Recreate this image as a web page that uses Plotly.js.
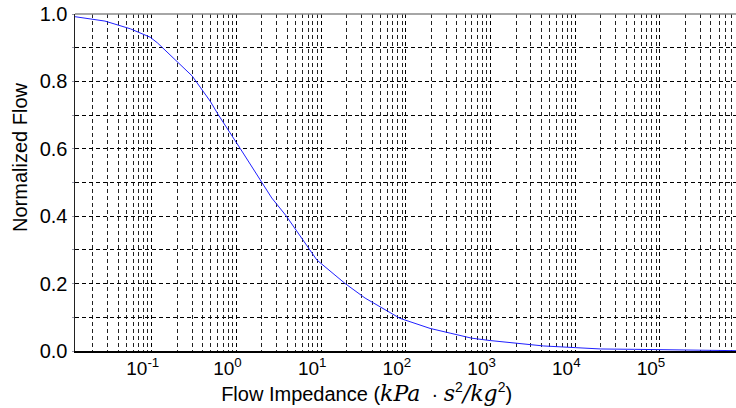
<!DOCTYPE html>
<html>
<head>
<meta charset="utf-8">
<script src="https://cdn.plot.ly/plotly-3.0.1.min.js"></script>
<style>html,body{margin:0;padding:0;background:#fff;}#chart{width:736px;height:408px;}</style>
</head>
<body>
<div id="chart"></div>
<script>
// Data
const flowImpedance = [0.0124, 0.028, 0.056, 0.096, 0.117, 0.216, 0.30, 0.49, 0.61, 1.1, 1.99, 2.61, 3.86, 7.4, 8.9, 19, 33, 85, 193, 333, 600, 990, 1950, 4200, 10000, 20000, 50000, 200000, 300000, 790000];
const normalizedFlow = [0.992, 0.979, 0.956, 0.931, 0.914, 0.850, 0.816, 0.741, 0.701, 0.602, 0.498, 0.454, 0.401, 0.300, 0.270, 0.201, 0.157, 0.097, 0.067, 0.053, 0.038, 0.031, 0.023, 0.015, 0.010, 0.006, 0.005, 0.003, 0.001, 0.001];
const xTickVals = [0.1, 1, 10, 100, 1000, 10000, 100000];
const xTickText = ['10<sup>-1</sup>', '10<sup>0</sup>', '10<sup>1</sup>', '10<sup>2</sup>', '10<sup>3</sup>', '10<sup>4</sup>', '10<sup>5</sup>'];

// minor (2..9 x decade) grid positions
const minorVals = [];
for (let e = -2; e <= 5; e++) {
  for (let m = 1; m <= 9; m++) {
    const v = m * Math.pow(10, e);
    if (m === 1 && xTickVals.indexOf(v) !== -1) continue;
    minorVals.push(v);
  }
}

const xMin = 0.0124, xMax = 790000;

const trace = {
  x: flowImpedance,
  y: normalizedFlow,
  type: 'scatter',
  mode: 'lines',
  line: {color: '#2020ff', width: 1},
  hoverinfo: 'x+y'
};

const M = (t) => '<span style="font-family:\'DejaVu Serif\';font-style:italic;font-size:22px">' + t + '</span>';
const sp = (n) => '&nbsp;'.repeat(n);
const gridDash = '4px,3px';
const layout = {
  width: 736, height: 408,
  margin: {l: 75, r: 0, t: 14, b: 57},
  paper_bgcolor: '#fff', plot_bgcolor: '#fff',
  showlegend: false,
  font: {family: 'Liberation Sans, Arial, sans-serif', color: '#000'},
  xaxis: {
    type: 'log',
    range: [Math.log10(xMin), Math.log10(xMax)],
    tickmode: 'array', tickvals: xTickVals, ticktext: xTickText,
    ticklabelshift: -9,
    tickfont: {size: 19, family: 'Liberation Sans, Arial, sans-serif'},
    ticks: '', showgrid: true, gridcolor: '#000', gridwidth: 1, griddash: gridDash,
    minor: {tickmode: 'array', tickvals: minorVals, showgrid: true, gridcolor: '#222', gridwidth: 1, griddash: gridDash, ticks: ''},
    showline: true, linecolor: '#000', linewidth: 1.5,
    zeroline: false,
    title: {
      text: 'Flow Impedance (' + M('kPa') + sp(2) + '· ' + M('s') + '<sup>2</sup>' + M('/kg') + '<sup>2</sup>)' + sp(14),
      font: {size: 20, family: 'Liberation Sans, Arial, sans-serif'},
      standoff: 4
    }
  },
  yaxis: {
    range: [0, 1],
    dtick: 0.2, tick0: 0, tickformat: '.1f',
    tickfont: {size: 20, family: 'Liberation Sans, Arial, sans-serif'},
    ticks: 'outside', ticklen: 2, tickcolor: '#99a',
    showgrid: true, gridcolor: '#000', gridwidth: 1, griddash: gridDash,
    minor: {dtick: 0.1, showgrid: true, gridcolor: '#000', gridwidth: 1, griddash: gridDash, ticks: 'outside', ticklen: 2, tickcolor: '#99a'},
    showline: true, linecolor: '#222', linewidth: 1.5,
    zeroline: false,
    title: {text: sp(9) + 'Normalized Flow', font: {size: 20, family: 'Liberation Sans, Arial, sans-serif'}, standoff: 6}
  },
  shapes: [{type: 'line', xref: 'paper', yref: 'paper', x0: 0, x1: 1, y0: 1, y1: 1, line: {color: '#888', width: 1.5}}]
};

Plotly.newPlot('chart', [trace], layout, {displayModeBar: false, staticPlot: true});
</script>
</body>
</html>
